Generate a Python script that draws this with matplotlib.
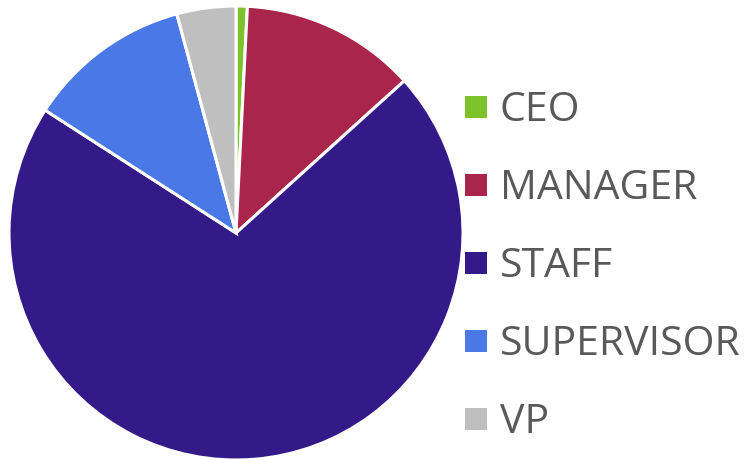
import matplotlib.pyplot as plt
from matplotlib.patches import Rectangle

labels = ['CEO', 'MANAGER', 'STAFF', 'SUPERVISOR', 'VP']
shares = [0.8, 12.5, 70.8, 11.7, 4.2]
colors = ['#7DC12B', '#AA254B', '#341A88', '#4A78E6', '#BFBFBF']

W, H = 753, 459
fig = plt.figure(figsize=(W / 100, H / 100), dpi=100)

# pie centre ~ (236, 233) px, radius ~227 px
cx, cy, r = 236, 233, 227
ax = fig.add_axes([(cx - r) / W, (H - cy - r) / H, 2 * r / W, 2 * r / H])
ax.pie(shares, colors=colors, startangle=90, counterclock=False,
       wedgeprops=dict(edgecolor='white', linewidth=2.2))
ax.set_aspect('equal')
ax.set_xlim(-1, 1)
ax.set_ylim(-1, 1)
ax.axis('off')

# legend, drawn by hand to match spacing
y0 = 107
step = 78
for i, (lab, col) in enumerate(zip(labels, colors)):
    y = y0 + i * step
    fig.patches.append(Rectangle((465 / W, (H - y - 11) / H), 22 / W, 22 / H,
                                 transform=fig.transFigure, facecolor=col,
                                 edgecolor='none'))
    fig.text(500 / W, (H - y - 4) / H, lab, fontsize=29.5, color='#595959',
             family='Open Sans', va='center', ha='left')

fig.savefig('out.png', dpi=100)
